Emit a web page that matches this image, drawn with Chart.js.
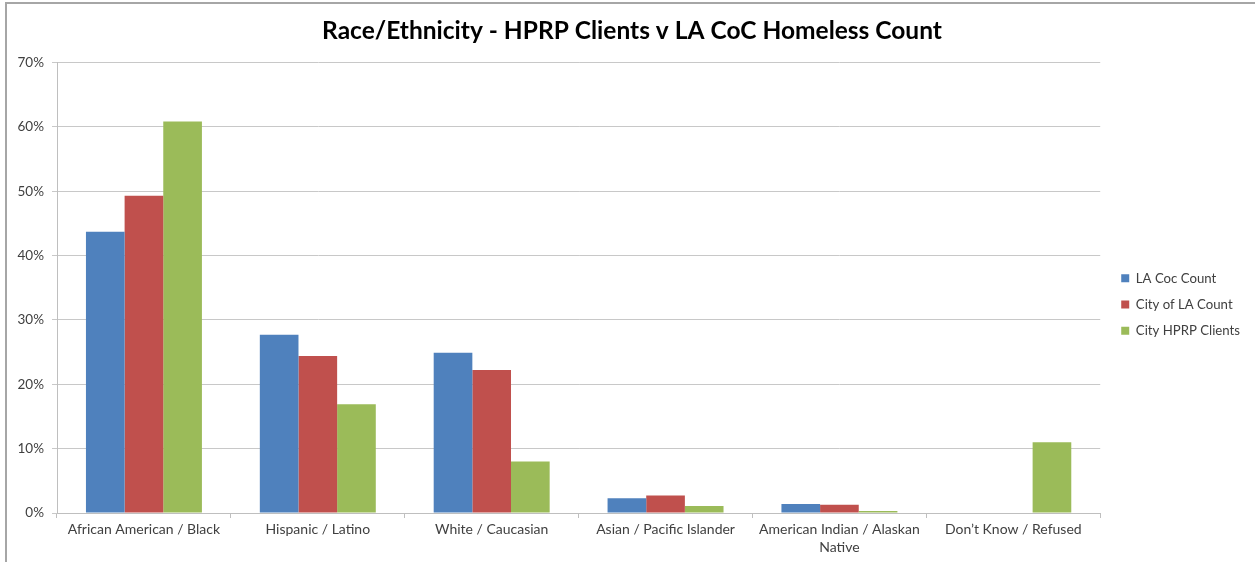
<!DOCTYPE html>
<html>
<head>
<meta charset="utf-8">
<script src="https://cdn.jsdelivr.net/npm/chart.js@4"></script>
<style>
  html, body { margin: 0; padding: 0; background: #ffffff; }
  #wrap { width: 1255px; height: 562px; position: relative; }
</style>
</head>
<body>
<div id="wrap"><canvas id="c" width="1255" height="562"></canvas></div>
<script>
const categories = [
  'African American / Black',
  'Hispanic / Latino',
  'White / Caucasian',
  'Asian / Pacific Islander',
  ['American Indian / Alaskan', 'Native'],
  'Don\u2019t Know / Refused'
];
const seriesNames = ['LA Coc Count', 'City of LA Count', 'City HPRP Clients'];
const laCocCount     = [0.437, 0.277, 0.249, 0.023, 0.014, 0.0];
const cityOfLaCount  = [0.493, 0.244, 0.222, 0.027, 0.013, 0.0];
const cityHprpClients = [0.608, 0.169, 0.080, 0.011, 0.003, 0.110];
const yTickMax = 0.7;
const yTickStep = 0.1;
const titleText = 'Race/Ethnicity - HPRP Clients v LA CoC Homeless Count';

const FONT = 'Lato, "Open Sans", sans-serif';

const frame = {
  id: 'frame',
  beforeDraw(chart) {
    const ctx = chart.ctx;
    ctx.save();
    ctx.fillStyle = '#ffffff';
    ctx.fillRect(0, 0, chart.width, chart.height);
    ctx.strokeStyle = '#a6a6a6';
    ctx.lineWidth = 2;
    ctx.beginPath();
    ctx.moveTo(6, 562);
    ctx.lineTo(6, 3);
    ctx.lineTo(1255, 3);
    ctx.stroke();
    ctx.restore();
  }
};

const nudge = {
  id: 'nudge',
  afterLayout(chart) {
    const lg = chart.legend;
    if (lg) { lg.top += 25; lg.bottom += 25; lg.left += 8; lg.right += 8; }
    const tb = chart.titleBlock;
    if (tb) { tb.left += 7; tb.right += 7; }
  }
};

new Chart(document.getElementById('c'), {
  type: 'bar',
  data: {
    labels: categories,
    datasets: [
      { label: seriesNames[0], data: laCocCount, backgroundColor: '#4F81BD' },
      { label: seriesNames[1], data: cityOfLaCount, backgroundColor: '#C0504D' },
      { label: seriesNames[2], data: cityHprpClients, backgroundColor: '#9BBB59' }
    ]
  },
  options: {
    responsive: false,
    animation: false,
    devicePixelRatio: 1,
    layout: { padding: { left: 8, right: 13, top: 0, bottom: 3 } },
    datasets: { bar: { barPercentage: 1.0, categoryPercentage: 0.667 } },
    plugins: {
      tooltip: { enabled: false },
      title: {
        display: true,
        text: titleText,
        color: '#000000',
        font: { family: FONT, size: 24.5, weight: 'bold' },
        padding: { top: 16, bottom: 17 }
      },
      legend: {
        position: 'right',
        align: 'center',
        labels: {
          boxWidth: 8,
          boxHeight: 8,
          padding: 13,
          color: '#404040',
          font: { family: FONT, size: 13.2 }
        }
      }
    },
    scales: {
      x: {
        grid: { display: true, drawOnChartArea: false, drawTicks: true, tickLength: 5, color: '#bfbfbf', offset: true },
        border: { display: true, color: '#bfbfbf' },
        ticks: { color: '#404040', font: { family: FONT, size: 14, lineHeight: 1.25 }, padding: 3, maxRotation: 0, autoSkip: false }
      },
      y: {
        min: 0,
        max: yTickMax,
        afterFit(scale) { scale.width = 49; },
        grid: { color: '#c8c8c8', tickLength: 5, drawTicks: true },
        border: { display: true, color: '#bfbfbf' },
        ticks: {
          stepSize: yTickStep,
          color: '#404040',
          font: { family: FONT, size: 13.5 },
          padding: 8,
          callback: v => Math.round(v * 100) + '%'
        }
      }
    }
  },
  plugins: [frame, nudge]
});
</script>
</body>
</html>
